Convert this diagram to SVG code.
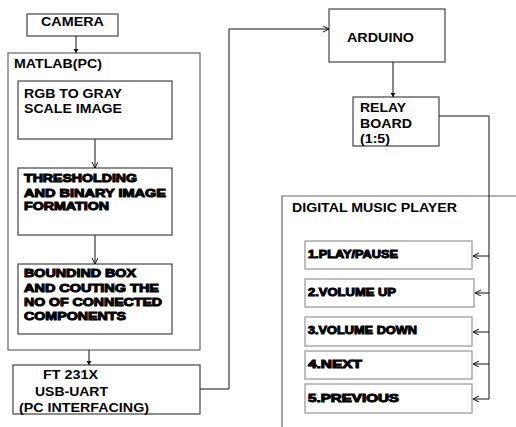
<svg xmlns="http://www.w3.org/2000/svg" width="516" height="427" viewBox="0 0 516 427">
<defs>
<style>
.box{fill:#fff;stroke:#444;stroke-width:1.2}
.sub{fill:#fff;stroke:#aaa;stroke-width:1.5}
.grp{fill:none;stroke:#666;stroke-width:1.2}
.t{font-family:"Liberation Sans",Arial,sans-serif;font-weight:bold;font-size:13px;fill:#000}
.h{font-family:"Liberation Sans",Arial,sans-serif;font-weight:bold;font-size:11.5px;fill:#000;stroke:#000;stroke-width:1}
.s{font-family:"Liberation Sans",Arial,sans-serif;font-weight:bold;font-size:10px;fill:#000;stroke:#000;stroke-width:0.9}
.c{fill:none;stroke:#111;stroke-width:1}
</style>
<marker id="a" markerWidth="8" markerHeight="8" refX="6" refY="3" orient="auto" markerUnits="userSpaceOnUse">
<path d="M0,0 L6,3 L0,6" fill="none" stroke="#111" stroke-width="1"/>
</marker>
<marker id="f" markerWidth="6" markerHeight="6" refX="4" refY="2.5" orient="auto" markerUnits="userSpaceOnUse">
<path d="M0,0 L4,2.5 L0,5 Z" fill="#111"/>
</marker>
</defs>
<g id="matlab">
<rect class="grp" x="8" y="53" width="192" height="297"/>
<text class="t" x="14" y="68" textLength="88" lengthAdjust="spacingAndGlyphs">MATLAB(PC)</text>
</g>
<g id="digital-music-player">
<path class="grp" d="M516,196 H282 V427"/>
<text class="t" x="292" y="212" textLength="165" lengthAdjust="spacingAndGlyphs">DIGITAL MUSIC PLAYER</text>
</g>
<g id="camera">
<rect class="box" x="27" y="14" width="91" height="22"/>
<text class="t" x="41" y="26" textLength="63" lengthAdjust="spacingAndGlyphs">CAMERA</text>
</g>
<g id="rgb">
<rect class="box" x="18" y="81" width="154" height="58"/>
<text class="t" x="24" y="98" textLength="98" lengthAdjust="spacingAndGlyphs">RGB TO GRAY</text>
<text class="t" x="24" y="113" textLength="98" lengthAdjust="spacingAndGlyphs">SCALE IMAGE</text>
</g>
<g id="threshold">
<rect class="box" x="18" y="168" width="154" height="67"/>
<text class="h" x="24" y="182" textLength="113" lengthAdjust="spacingAndGlyphs">THRESHOLDING</text>
<text class="h" x="24" y="197" textLength="142" lengthAdjust="spacingAndGlyphs">AND BINARY IMAGE</text>
<text class="h" x="24" y="210" textLength="85" lengthAdjust="spacingAndGlyphs">FORMATION</text>
</g>
<g id="bounding">
<rect class="box" x="18" y="264" width="154" height="70"/>
<text class="h" x="24" y="277" textLength="112" lengthAdjust="spacingAndGlyphs">BOUNDIND BOX</text>
<text class="h" x="24" y="292" textLength="135" lengthAdjust="spacingAndGlyphs">AND COUTING THE</text>
<text class="h" x="24" y="306" textLength="138" lengthAdjust="spacingAndGlyphs">NO OF CONNECTED</text>
<text class="h" x="24" y="320" textLength="102" lengthAdjust="spacingAndGlyphs">COMPONENTS</text>
</g>
<g id="ft231x">
<rect class="box" x="13" y="365" width="187" height="49"/>
<text class="t" x="43" y="379" textLength="55" lengthAdjust="spacingAndGlyphs">FT 231X</text>
<text class="t" x="35" y="396" textLength="73" lengthAdjust="spacingAndGlyphs">USB-UART</text>
<text class="t" x="19" y="412" textLength="130" lengthAdjust="spacingAndGlyphs">(PC INTERFACING)</text>
</g>
<g id="arduino">
<rect class="box" x="329" y="9" width="116" height="53"/>
<text class="t" x="347" y="42" textLength="67" lengthAdjust="spacingAndGlyphs">ARDUINO</text>
</g>
<g id="relay">
<rect class="box" x="353" y="97" width="86" height="49"/>
<text class="t" x="360" y="112" textLength="46" lengthAdjust="spacingAndGlyphs">RELAY</text>
<text class="t" x="360" y="128" textLength="52" lengthAdjust="spacingAndGlyphs">BOARD</text>
<text class="t" x="360" y="143" textLength="30" lengthAdjust="spacingAndGlyphs">(1:5)</text>
</g>
<g id="play">
<rect class="sub" x="305" y="241" width="167" height="28"/>
<text class="s" x="308" y="258" textLength="90" lengthAdjust="spacingAndGlyphs">1.PLAY/PAUSE</text>
</g>
<g id="volup">
<rect class="sub" x="305" y="279" width="169" height="28"/>
<text class="s" x="308" y="296" textLength="88" lengthAdjust="spacingAndGlyphs">2.VOLUME UP</text>
</g>
<g id="voldown">
<rect class="sub" x="305" y="317" width="167" height="29"/>
<text class="s" x="308" y="334" textLength="109" lengthAdjust="spacingAndGlyphs">3.VOLUME DOWN</text>
</g>
<g id="next">
<rect class="sub" x="305" y="351" width="167" height="28"/>
<text class="s" x="308" y="368" textLength="54" lengthAdjust="spacingAndGlyphs">4.NEXT</text>
</g>
<g id="previous">
<rect class="sub" x="305" y="384" width="167" height="29"/>
<text class="s" x="308" y="402" textLength="91" lengthAdjust="spacingAndGlyphs">5.PREVIOUS</text>
</g>
<g id="connectors">
<path class="c" d="M76,36 V53" marker-end="url(#f)"/>
<path class="c" d="M95,139 V168" marker-end="url(#a)"/>
<path class="c" d="M95,235 V264" marker-end="url(#a)"/>
<path class="c" d="M89,350 V365" marker-end="url(#f)"/>
<path class="c" d="M200,389 H229 V29 H329" marker-end="url(#a)"/>
<path class="c" d="M393,62 V97" marker-end="url(#f)"/>
<path class="c" d="M439,116 H489 V399"/>
<path class="c" d="M489,256 H473" marker-end="url(#a)"/>
<path class="c" d="M489,293 H475" marker-end="url(#a)"/>
<path class="c" d="M489,332 H473" marker-end="url(#a)"/>
<path class="c" d="M489,364 H473" marker-end="url(#a)"/>
<path class="c" d="M489,399 H473" marker-end="url(#a)"/>
</g>
</svg>
